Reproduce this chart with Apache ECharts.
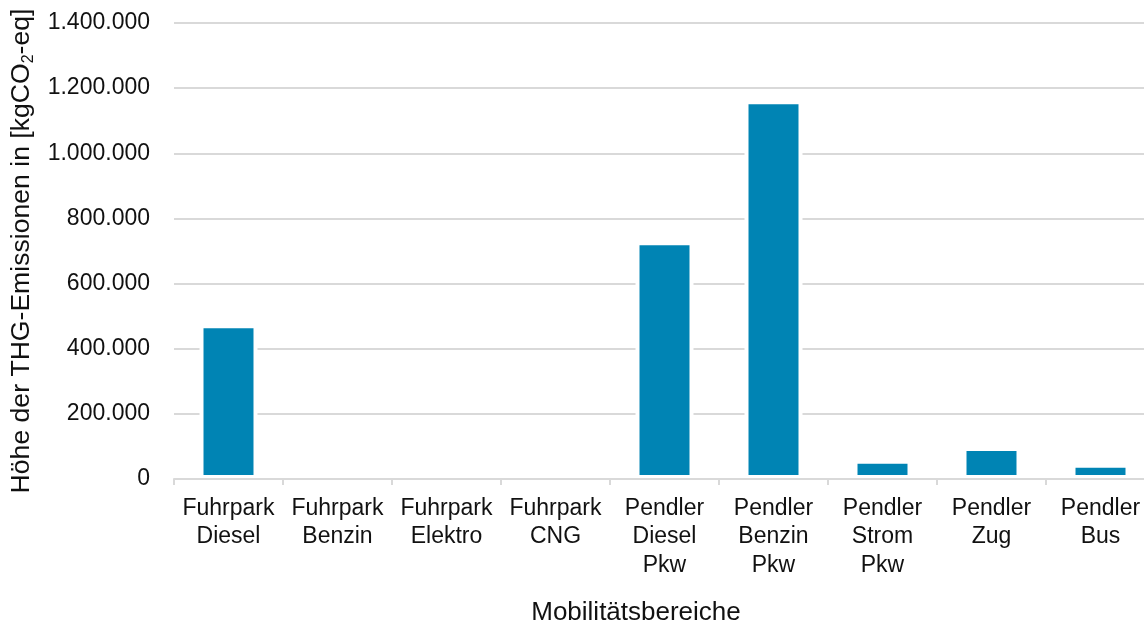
<!DOCTYPE html>
<html lang="de">
<head>
<meta charset="utf-8">
<title>THG-Emissionen nach Mobilitätsbereichen</title>
<script src="https://cdn.jsdelivr.net/npm/echarts@6/dist/echarts.min.js"></script>
<style>
  html, body { margin: 0; padding: 0; background: #ffffff; }
  #chart { width: 1144px; height: 620px; }
</style>
</head>
<body>
<div id="chart"></div>
<script>
// Emission sources (category axis)
const categories = [
  'Fuhrpark\nDiesel',
  'Fuhrpark\nBenzin',
  'Fuhrpark\nElektro',
  'Fuhrpark\nCNG',
  'Pendler\nDiesel\nPkw',
  'Pendler\nBenzin\nPkw',
  'Pendler\nStrom\nPkw',
  'Pendler\nZug',
  'Pendler\nBus'
];

// Greenhouse gas emissions per source, kg CO2-eq
const emissions = [475000, 0, 0, 0, 730000, 1163000, 59000, 98000, 47000];

// Value axis range
const yMin = 0;
const yMax = 1400000;
const yStep = 200000;

const axisTitleX = 'Mobilitätsbereiche';

// German thousands separator
function formatDE(v) {
  return String(Math.round(v)).replace(/\B(?=(\d{3})+(?!\d))/g, '.');
}

const FONT = '"Liberation Sans", Arial, sans-serif';
const GRID_COLOR = '#d9d9d9';
const TEXT_COLOR = '#111111';

const chart = echarts.init(document.getElementById('chart'), null, { renderer: 'canvas' });

chart.setOption({
  animation: false,
  backgroundColor: '#ffffff',
  textStyle: { fontFamily: FONT },
  grid: {
    left: 174, top: 23, width: 981, height: 456,
    containLabel: false,
    outerBoundsMode: 'none'
  },
  xAxis: {
    type: 'category',
    data: categories,
    z: 3,
    boundaryGap: true,
    axisLine: { show: true, lineStyle: { color: GRID_COLOR, width: 2 } },
    axisTick: { show: true, length: 6, lineStyle: { color: GRID_COLOR, width: 2 } },
    axisLabel: {
      color: TEXT_COLOR,
      fontFamily: FONT,
      fontSize: 23,
      lineHeight: 28.5,
      margin: 15,
      interval: 0
    },
    name: axisTitleX,
    nameLocation: 'middle',
    nameGap: 119,
    nameTextStyle: {
      color: TEXT_COLOR,
      fontFamily: FONT,
      fontSize: 26,
      lineHeight: 30,
      padding: [0, 57, 0, 0]
    }
  },
  yAxis: {
    type: 'value',
    min: yMin,
    max: yMax,
    interval: yStep,
    axisLine: { show: false },
    axisTick: { show: false },
    splitLine: { show: true, lineStyle: { color: GRID_COLOR, width: 2 } },
    axisLabel: {
      color: TEXT_COLOR,
      fontFamily: FONT,
      fontSize: 23,
      margin: 24,
      formatter: formatDE
    },
    name: '{a|Höhe der THG-Emissionen in [kgCO}{s|2}{a|-eq]}',
    nameLocation: 'middle',
    nameRotate: 90,
    nameGap: 137,
    nameTextStyle: {
      color: TEXT_COLOR,
      fontFamily: FONT,
      rich: {
        a: { fontFamily: FONT, fontSize: 26.6, lineHeight: 30, color: TEXT_COLOR },
        s: { fontFamily: FONT, fontSize: 16, lineHeight: 8, verticalAlign: 'bottom', color: TEXT_COLOR }
      }
    }
  },
  series: [{
    type: 'bar',
    data: emissions,
    // white outline keeps a small gap between the bars and the grid lines
    barWidth: 58,
    itemStyle: {
      color: '#0084b4',
      borderColor: '#ffffff',
      borderWidth: 4
    },
    emphasis: { disabled: true }
  }]
});
</script>
</body>
</html>
